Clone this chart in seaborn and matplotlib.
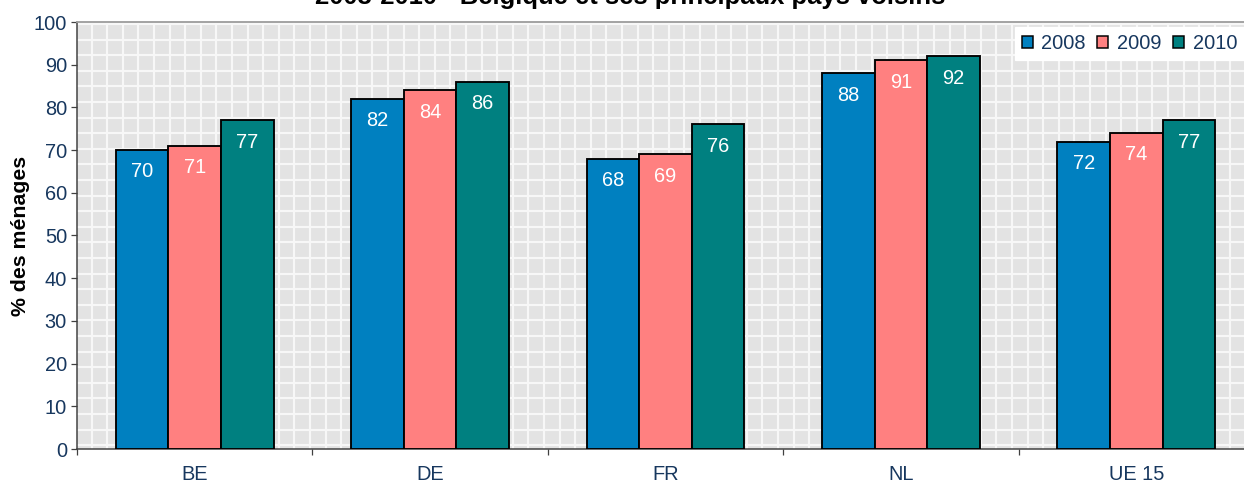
import matplotlib
matplotlib.use("Agg")
import matplotlib.pyplot as plt
import matplotlib.patches as mpatches
import seaborn as sns
import pandas as pd

countries = ["BE", "DE", "FR", "NL", "UE 15"]
years = ["2008", "2009", "2010"]
v2008 = [70, 82, 68, 88, 72]
v2009 = [71, 84, 69, 91, 74]
v2010 = [77, 86, 76, 92, 77]
yticks = [0, 10, 20, 30, 40, 50, 60, 70, 80, 90, 100]
title = "2008-2010 - Belgique et ses principaux pays voisins"
ylabel = "% des ménages"

colors = ["#0080C0", "#FF8080", "#008080"]
tick_color = "#17375E"

rows = []
for yr, vals in zip(years, [v2008, v2009, v2010]):
    for c, v in zip(countries, vals):
        rows.append({"pays": c, "annee": yr, "val": v})
df = pd.DataFrame(rows)

sns.set_style("white")
plt.rcParams["font.family"] = ["Liberation Sans", "DejaVu Sans"]

DPI = 90
W, H = 1244, 485
fig = plt.figure(figsize=(W / DPI, H / DPI), dpi=DPI)
fig.patch.set_facecolor("white")
# plot area in pixels (top-down): x 77..1254, y 22..449
AX_L, AX_R, AX_T, AX_B = 77, 1254, 22, 449
ax = fig.add_axes([AX_L / W, 1 - AX_B / H, (AX_R - AX_L) / W, (AX_B - AX_T) / H])
ax.set_facecolor("#E3E3E3")

# background texture (Excel-style pattern): white lines every ~15.6 px
step = 15.6
pat_color = "#F7F7F7"
ypx = 24.0
while ypx < AX_B:
    f = (AX_B - ypx) / (AX_B - AX_T)
    ax.plot([0, 1], [f, f], transform=ax.transAxes, color=pat_color, lw=1.7,
            zorder=0.5, solid_capstyle="butt")
    ypx += step
xpx = 76.0 + step
while xpx < AX_R:
    f = (xpx - AX_L) / (AX_R - AX_L)
    ax.plot([f, f], [0, 1], transform=ax.transAxes, color=pat_color, lw=1.7,
            zorder=0.5, solid_capstyle="butt")
    xpx += step

sns.barplot(data=df, x="pays", y="val", hue="annee", palette=colors,
            width=0.67, edgecolor="black", linewidth=1.5, saturation=1,
            ax=ax, legend=False, zorder=3)

for cont in ax.containers:
    for p in cont.patches:
        h = p.get_height()
        ax.annotate(f"{h:.0f}", (p.get_x() + p.get_width() / 2, h),
                    xytext=(0, -17.5), textcoords="offset points",
                    ha="center", va="center", color="white", fontsize=16,
                    zorder=4)

ax.set_ylim(0, 100)
ax.set_xlim(-0.5, 4.5)
ax.set_yticks(yticks)
ax.set_yticklabels([str(t) for t in yticks], color=tick_color, fontsize=16)
ax.tick_params(axis="y", direction="out", length=5, width=1, color="#404040",
               pad=3, left=True)

ax.set_xticks([-0.5, 0.5, 1.5, 2.5, 3.5, 4.5])
ax.set_xticklabels([])
ax.set_xticks(range(len(countries)), minor=True)
ax.set_xticklabels(countries, minor=True, color=tick_color, fontsize=16)
ax.tick_params(axis="x", which="major", direction="out", length=5, width=1,
               color="#404040", bottom=True)
ax.tick_params(axis="x", which="minor", length=0, pad=13)

ax.set_xlabel("")
ax.set_ylabel(ylabel, fontsize=17, fontweight="bold", color="black", labelpad=3)

for s in ["left", "bottom"]:
    ax.spines[s].set_color("#404040")
    ax.spines[s].set_linewidth(1.2)
ax.spines["top"].set_color("#A0A0A0")
ax.spines["top"].set_linewidth(1.5)
ax.spines["right"].set_visible(False)

handles = [mpatches.Patch(facecolor=c, edgecolor="black", linewidth=1.2, label=y)
           for c, y in zip(colors, years)]
leg = fig.legend(handles=handles, ncol=3, loc="upper right",
                 bbox_to_anchor=(1.0, 1 - 27 / H), frameon=True, fancybox=False,
                 fontsize=16, handlelength=0.55, handleheight=0.55,
                 handletextpad=0.45, columnspacing=0.55, borderpad=0.35,
                 borderaxespad=0)
leg.get_frame().set_edgecolor("white")
leg.get_frame().set_facecolor("white")
leg.get_frame().set_alpha(1)
leg.set_zorder(10)
for t in leg.get_texts():
    t.set_color(tick_color)

fig.text(630 / W, 1 - 4 / H, title, ha="center", va="baseline",
         fontsize=20.5, fontweight="bold", color="black")

fig.savefig("out.png", dpi=DPI)
